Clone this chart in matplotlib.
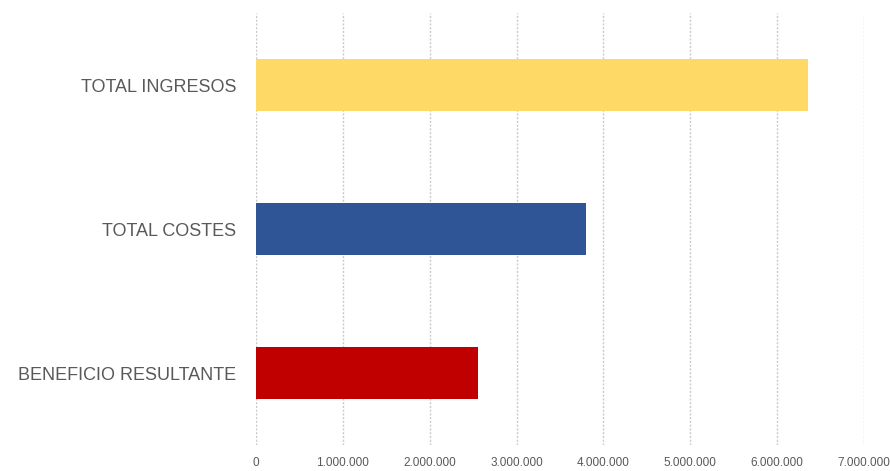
import matplotlib
matplotlib.use("Agg")
import matplotlib.pyplot as plt
from matplotlib.ticker import FuncFormatter

# Values
categorias = ["BENEFICIO RESULTANTE", "TOTAL COSTES", "TOTAL INGRESOS"]
valores = [2560000, 3800000, 6360000]
colores = ["#C00000", "#2F5597", "#FFD966"]
ticks_x = [0, 1000000, 2000000, 3000000, 4000000, 5000000, 6000000, 7000000]

fuente = ["Liberation Sans Narrow", "Liberation Sans", "DejaVu Sans"]
gris = "#595959"

fig = plt.figure(figsize=(8.9, 4.71), dpi=100)
ax = fig.add_axes([256 / 890, 26 / 471, 608 / 890, 432 / 471])

ax.barh(categorias, valores, height=0.36, color=colores, zorder=3)

ax.set_xlim(0, 7000000)
ax.set_ylim(-0.5, 2.5)
ax.set_xticks(ticks_x)
ax.xaxis.set_major_formatter(FuncFormatter(lambda v, p: f"{int(v):,}".replace(",", ".")))

# Dotted vertical gridlines
ax.grid(axis="x", color="#CACACA", linestyle=(0, (1.5, 1.2)), linewidth=1.0, zorder=0)
ax.grid(axis="y", visible=False)

for s in ax.spines.values():
    s.set_visible(False)

ax.tick_params(axis="both", length=0)
ax.tick_params(axis="x", pad=9)
ax.tick_params(axis="y", pad=14)

for lbl in ax.get_xticklabels():
    lbl.set_family(fuente)
    lbl.set_fontsize(8.5)
    lbl.set_color(gris)
for lbl in ax.get_yticklabels():
    lbl.set_family(fuente)
    lbl.set_fontsize(13)
    lbl.set_color(gris)

fig.savefig("out.png", dpi=100, facecolor="white")
plt.close(fig)
